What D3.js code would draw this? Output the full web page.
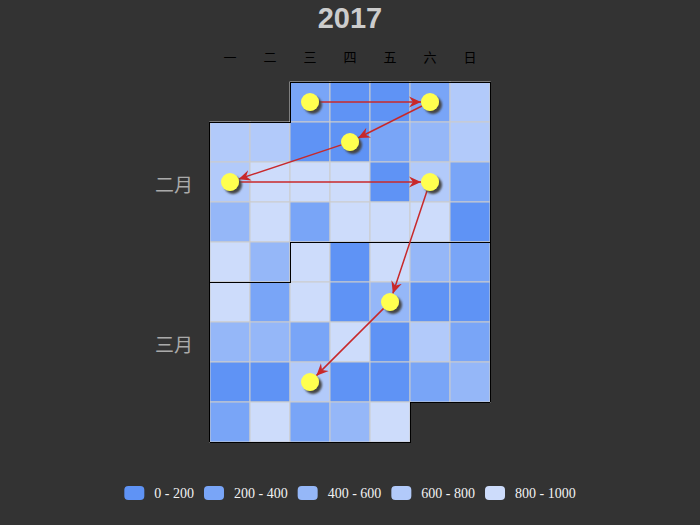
<!DOCTYPE html>
<html>
<head>
<meta charset="utf-8">
<script src="https://cdn.jsdelivr.net/npm/d3@7/dist/d3.min.js"></script>
<style>
  html, body { margin: 0; padding: 0; background: #333333; }
  svg { display: block; }
</style>
</head>
<body>
<div id="chart"></div>
<script>
// ---------------- data ----------------
const titleText = "2017";
const startDate = "2017-02-01";
const endDate = "2017-03-31";
const dayLabels = ["一", "二", "三", "四", "五", "六", "日"];
const monthLabels = ["二月", "三月"];
// daily values, Feb 1 .. Mar 31
const dailyValues = [
  310, 80, 150, 280, 720,
  650, 760, 40, 120, 350, 480, 690,
  640, 880, 910, 850, 60, 700, 260,
  520, 830, 330, 940, 870, 900, 110,
  960, 450,
  890, 90, 820, 540, 240,
  930, 370, 860, 20, 430, 170, 130,
  560, 470, 300, 810, 70, 620, 390,
  140, 30, 680, 190, 100, 340, 500,
  210, 980, 290, 580, 840
];
const graphNodes = ["2017-02-01", "2017-02-04", "2017-02-09", "2017-02-13", "2017-02-18", "2017-03-10", "2017-03-22"];
const graphLinks = [[0, 1], [1, 2], [2, 3], [3, 4], [4, 5], [5, 6]];
const pieceLabels = ["0 - 200", "200 - 400", "400 - 600", "600 - 800", "800 - 1000"];
const pieceBreaks = [200, 400, 600, 800];
const pieceColors = ["#5f93f5", "#79a5f7", "#95b7f8", "#b2cafa", "#cddcfb"];

// ---------------- layout ----------------
const W = 700, H = 525;
const svg = d3.select("#chart").append("svg").attr("width", W).attr("height", H);
svg.append("rect").attr("width", W).attr("height", H).attr("fill", "#333333");

const parse = d3.timeParse("%Y-%m-%d");
const d0 = parse(startDate), d1 = parse(endDate);
const days = d3.timeDay.range(d0, d3.timeDay.offset(d1, 1));
const data = days.map((d, i) => ({ date: d, value: dailyValues[i] }));

const weekStart = d3.timeMonday.floor(d0);
const nWeeks = d3.timeMonday.count(weekStart, d1) + 1;
const dow = d => (d.getDay() + 6) % 7;
const week = d => d3.timeMonday.count(weekStart, d);

const x = d3.scaleBand().domain(d3.range(7)).range([210, 490]);
const y = d3.scaleBand().domain(d3.range(nWeeks)).range([82, 82 + 40 * nWeeks]);
const color = d3.scaleThreshold().domain(pieceBreaks).range(pieceColors);

// title
svg.append("text").attr("x", 350).attr("y", 28).attr("text-anchor", "middle")
  .attr("font-family", "Liberation Sans, Arial, sans-serif").attr("font-weight", "bold")
  .attr("font-size", 29).attr("fill", "#cccccc").text(titleText);

// day labels
svg.append("g").selectAll("text").data(dayLabels).join("text")
  .attr("x", (d, i) => x(i) + x.bandwidth() / 2).attr("y", 56)
  .attr("text-anchor", "middle").attr("dominant-baseline", "central")
  .attr("font-family", "Noto Sans CJK SC, sans-serif").attr("font-size", 13)
  .attr("fill", "#000").text(d => d);

// cells
svg.append("g").selectAll("rect").data(data).join("rect")
  .attr("x", d => x(dow(d.date))).attr("y", d => y(week(d.date)))
  .attr("width", x.bandwidth()).attr("height", y.bandwidth())
  .attr("fill", d => color(d.value))
  .attr("stroke", "#cccccc").attr("stroke-width", 1);

// month split lines
const monthStarts = d3.timeMonth.range(d0, d3.timeDay.offset(d1, 1)).concat([d3.timeMonth.offset(d3.timeMonth.floor(d1), 1)]);
const linePts = monthStarts.map(m => {
  const c = dow(m), w = week(m);
  const yt = y(0) + w * y.bandwidth(), yb = yt + y.bandwidth();
  const xc = x(0) + c * x.bandwidth();
  return [[x(0), yb], [xc, yb], [xc, yt], [x(0) + 7 * x.bandwidth(), yt]];
});
const lineGen = d3.line();
const splitG = svg.append("g").attr("fill", "none").attr("stroke", "#000").attr("stroke-width", 1)
  .attr("shape-rendering", "crispEdges");
linePts.forEach(p => splitG.append("path").attr("d", lineGen(p)));
splitG.append("path").attr("d", lineGen(linePts.map(p => [p[0][0] - 1, p[0][1]])));
splitG.append("path").attr("d", lineGen(linePts.map(p => [p[3][0] + 0.5, p[3][1]])));

// month labels
svg.append("g").selectAll("text").data(monthLabels).join("text")
  .attr("x", 193)
  .attr("y", (d, i) => {
    const m = monthStarts[i], nxt = monthStarts[i + 1];
    const top = y(0) + week(m) * y.bandwidth();
    const bot = y(0) + (week(d3.timeDay.offset(nxt, -1)) + 1) * y.bandwidth();
    return (top + bot) / 2 + 1;
  })
  .attr("text-anchor", "end").attr("dominant-baseline", "central")
  .attr("font-family", "Noto Sans CJK SC, sans-serif").attr("font-size", 19)
  .attr("fill", "#aaaaaa").text(d => d);

// graph
const defs = svg.append("defs");
defs.append("marker").attr("id", "arrow").attr("viewBox", "-12 -6 12 12")
  .attr("refX", 0).attr("refY", 0).attr("markerWidth", 12).attr("markerHeight", 12)
  .attr("markerUnits", "userSpaceOnUse").attr("orient", "auto")
  .append("path").attr("d", "M0,0 L-12,-5.5 L-8,0 L-12,5.5 Z").attr("fill", "#c8282a");
const filt = defs.append("filter").attr("id", "shadow").attr("x", "-50%").attr("y", "-50%").attr("width", "200%").attr("height", "200%");
filt.append("feDropShadow").attr("dx", 3).attr("dy", 3).attr("stdDeviation", 1).attr("flood-color", "#444").attr("flood-opacity", 1);

const center = s => { const d = parse(s); return [x(dow(d)) + x.bandwidth() / 2, y(week(d)) + y.bandwidth() / 2]; };
const R = 9;
svg.append("g").selectAll("line").data(graphLinks).join("line")
  .each(function (l) {
    const a = center(graphNodes[l[0]]), b = center(graphNodes[l[1]]);
    const dx = b[0] - a[0], dy = b[1] - a[1], len = Math.hypot(dx, dy);
    d3.select(this)
      .attr("x1", a[0] + dx / len * R).attr("y1", a[1] + dy / len * R)
      .attr("x2", b[0] - dx / len * R).attr("y2", b[1] - dy / len * R);
  })
  .attr("stroke", "#c8282a").attr("stroke-width", 1.5).attr("marker-end", "url(#arrow)");

svg.append("g").selectAll("circle").data(graphNodes).join("circle")
  .attr("cx", d => center(d)[0]).attr("cy", d => center(d)[1]).attr("r", R)
  .attr("fill", "#ffff50").attr("filter", "url(#shadow)");

// legend
const lg = svg.append("g");
const items = lg.selectAll("g").data(pieceLabels).join("g");
items.append("rect").attr("width", 20).attr("height", 14).attr("rx", 4).attr("ry", 4)
  .attr("y", 486).attr("fill", (d, i) => pieceColors[i]);
items.append("text").attr("y", 498)
  .attr("font-family", "Liberation Serif, Times New Roman, serif").attr("font-size", 14)
  .attr("fill", "#f2f2f2").text(d => d);
let widths = [];
items.select("text").each(function () { widths.push(this.getComputedTextLength()); });
const total = d3.sum(widths) + pieceLabels.length * 30 + (pieceLabels.length - 1) * 10;
let cx = 350 - total / 2;
items.each(function (d, i) {
  const g = d3.select(this);
  g.select("rect").attr("x", cx);
  g.select("text").attr("x", cx + 30);
  cx += 30 + widths[i] + 10;
});
</script>
</body>
</html>
